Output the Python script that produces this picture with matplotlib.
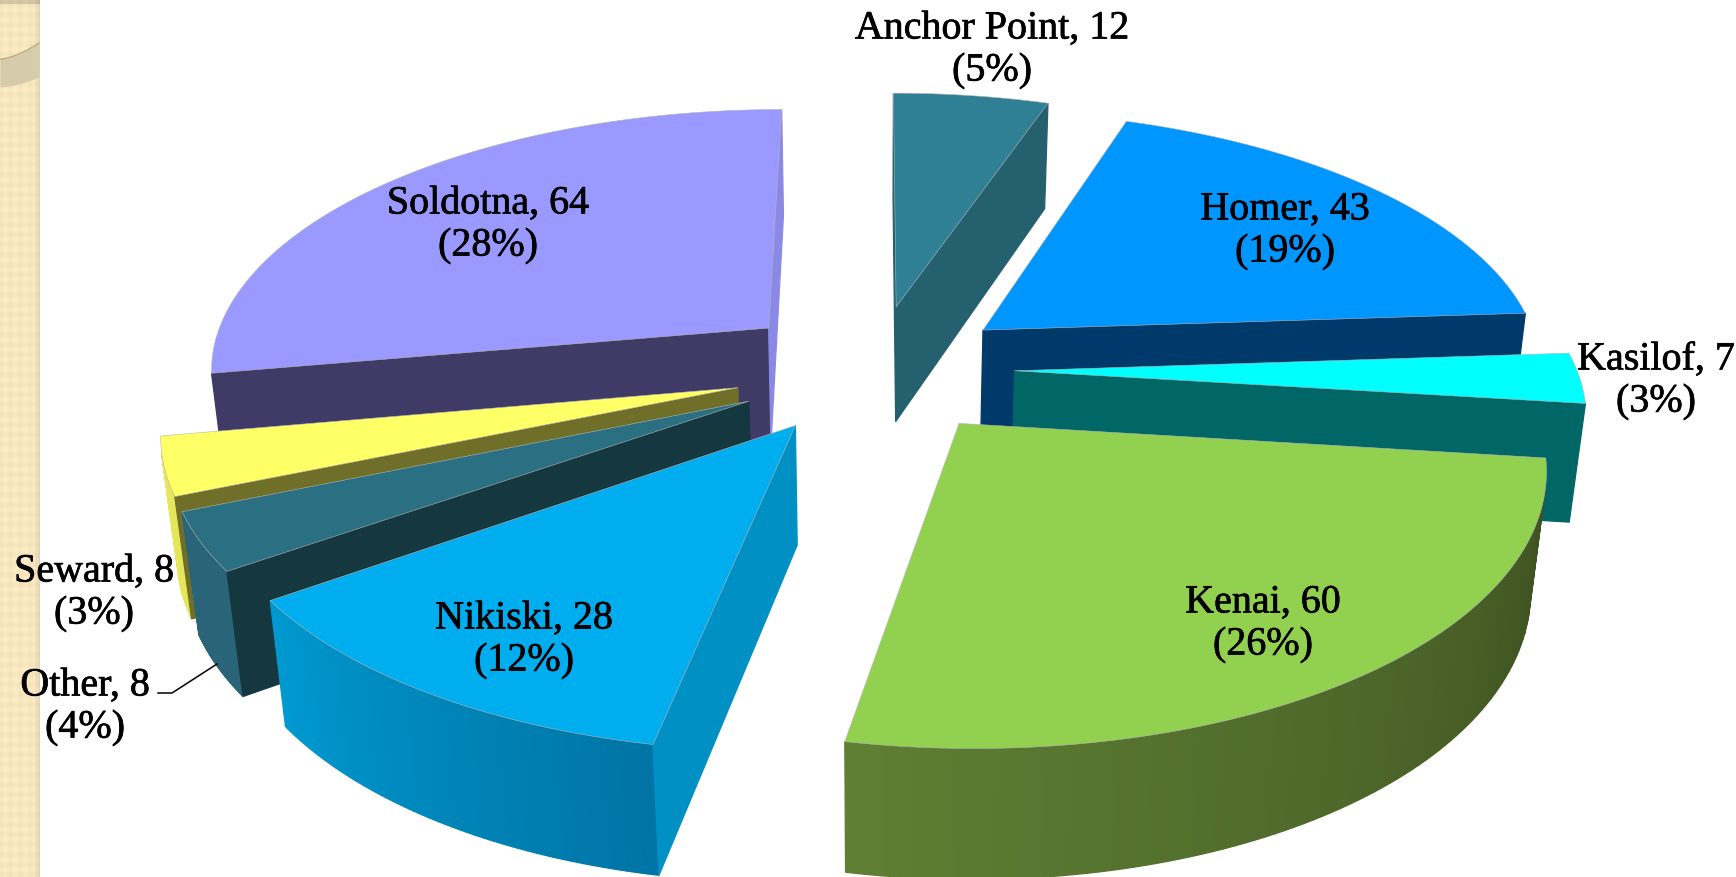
import numpy as np
import matplotlib
matplotlib.use("Agg")
import matplotlib.pyplot as plt
import matplotlib.patheffects as pe
from matplotlib.colors import to_rgb

# chart data, clockwise from the top
names = ['Anchor Point', 'Homer', 'Kasilof', 'Kenai', 'Nikiski', 'Other', 'Seward', 'Soldotna']
values = [12, 43, 7, 60, 28, 8, 8, 64]
pct_labels = ['5%', '19%', '3%', '26%', '12%', '4%', '3%', '28%']

# colours: top, cut face at slice start, cut face at slice end, outer wall start/end
top_colors = ['#2f7f95', '#0096ff', '#00ffff', '#92d050', '#00aeef', '#2a6f82', '#ffff66', '#9999ff']
start_colors = ['#25606f', '#003a6b', '#006666', '#4a6426', '#0090c4', '#15373f', '#6f6f2a', '#3f3a66']
end_colors = ['#25606f', '#003a6b', '#006666', '#4a6426', '#0090c4', '#15373f', '#6f6f2a', '#8a8ae6']
wall_a = ['#25606f', '#003a6b', '#006666', '#3c4f20', '#0074a4', '#2a6478', '#e6e65a', '#8a8ae6']
wall_b = ['#25606f', '#003a6b', '#006666', '#5f7f33', '#0099d0', '#2a6478', '#e6e65a', '#8a8ae6']

# label centres in pixels
label_x = [992, 1285, 1656, 1263, 524, 85, 94, 488]
label_y = [51, 232, 382, 625, 641, 708, 594, 226]

# painter order, back to front
draw_order = [0, 1, 2, 3, 7, 6, 5, 4]

# perspective model of the pie
cx, cy = 874, 370
rx, ry = 562, 261
persp = 0.144
persp_z = 0.023
depth = 120
explode = 0.25
start_angle = 0


def project(px, py, lower=False):
    z = 1.0 if lower else 0.0
    den = 1 - persp * py + persp_z * z
    return cx + rx * px / den, cy + (ry * py + depth * z) / den


def area(pts):
    # signed area in screen coordinates, used to drop faces turned away
    s = 0.0
    for k in range(len(pts)):
        x0, y0 = pts[k]
        x1, y1 = pts[(k + 1) % len(pts)]
        s += x0 * y1 - x1 * y0
    return s / 2


def poly(ax, pts, color, edge=None, lw=0.0, z=2):
    xs = [p[0] for p in pts]
    ys = [p[1] for p in pts]
    ax.fill(xs, ys, facecolor=color, edgecolor=edge if edge else color, linewidth=lw if edge else 0.9, zorder=z)


fig, ax = plt.subplots(figsize=(17.36, 8.78), dpi=100)
fig.subplots_adjust(0, 0, 1, 1)
ax.set_axis_off()

# left paper strip with the checker texture
xx, yy = np.meshgrid(np.arange(40), np.arange(878))
tex = np.sin((xx + yy) * np.pi / 10) * np.sin((xx - yy) * np.pi / 10)
base = np.array(to_rgb('#f9e8bf'))
img = base + tex[..., None] * 0.022
img[:, 35:39] = img[:, 35:39] * 0.95
img[:, 39] = np.array(to_rgb('#d9d4c4'))
img[:5] = img[:5] * 0.85
ax.imshow(np.clip(img, 0, 1), extent=(0, 40, 878, 0), aspect='auto', interpolation='bilinear', zorder=0)
ax.set_xlim(0, 1736)
ax.set_ylim(878, 0)

# ring of the ornament at top left
arc_x = np.linspace(0, 39, 30)
arc_top = 60 - 16 * (arc_x / 39) ** 1.6
arc_bot = 88 - 10 * (arc_x / 39) ** 1.6
ax.fill_between(arc_x, arc_top, arc_bot, color='#d6ccab', lw=0, zorder=1)
ax.plot(arc_x, arc_top, color='#b9ad88', lw=1.0, zorder=1)

# slices
total = float(sum(values))
edges = start_angle + np.cumsum([0] + values) / total * 360

for i in draw_order:
    t0, t1 = edges[i], edges[i + 1]
    mid = np.radians((t0 + t1) / 2)
    ox, oy = explode * np.sin(mid), -explode * np.cos(mid)
    ts = np.radians(np.linspace(t0, t1, 90))
    arc = [(ox + np.sin(t), oy - np.cos(t)) for t in ts]
    apex = (ox, oy)
    layer = 2 + draw_order.index(i) * 0.1

    # outer wall, split up for the gradient
    ca, cb = np.array(to_rgb(wall_a[i])), np.array(to_rgb(wall_b[i]))
    for j in range(len(arc) - 1):
        col = tuple(ca + (cb - ca) * j / (len(arc) - 2))
        quad = [project(*arc[j]), project(*arc[j + 1]),
                project(*arc[j + 1], lower=True), project(*arc[j], lower=True)]
        if area(quad) < 0:
            poly(ax, quad, col, z=layer)

    # cut faces
    face0 = [project(*apex), project(*arc[0]), project(*arc[0], lower=True), project(*apex, lower=True)]
    face1 = [project(*apex), project(*arc[-1]), project(*arc[-1], lower=True), project(*apex, lower=True)]
    if area(face0) < 0:
        poly(ax, face0, start_colors[i], z=layer + 0.01)
    if area(face1) > 0:
        poly(ax, face1, end_colors[i], z=layer + 0.01)

    # top
    top = [project(*apex)] + [project(*p) for p in arc]
    poly(ax, top, top_colors[i], edge='#b5b5b5', lw=0.4, z=layer + 0.02)

# labels
for i in range(len(names)):
    ax.text(label_x[i], label_y[i], f"{names[i]}, {values[i]}\n({pct_labels[i]})",
            family='Liberation Serif', fontsize=28.8, color='black', ha='center', va='center',
            linespacing=1.18, zorder=5,
            path_effects=[pe.withStroke(linewidth=0.5, foreground='black')])

# leader line for Other
ax.plot([158, 172, 217], [694, 694, 665], color='black', lw=1.1, zorder=5)

fig.savefig('out.png', dpi=100)
